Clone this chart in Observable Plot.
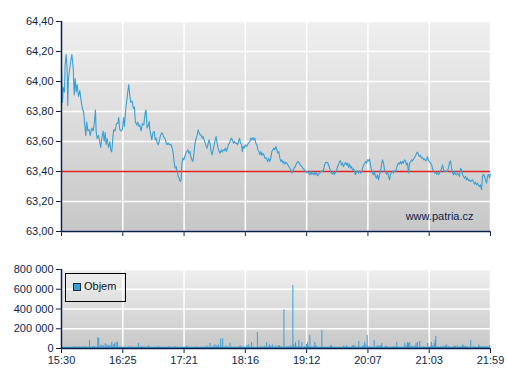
<!DOCTYPE html>
<html><head><meta charset="utf-8">
<script src="https://cdn.jsdelivr.net/npm/d3@7"></script>
<script src="https://cdn.jsdelivr.net/npm/@observablehq/plot@0.6"></script>
<style>
body{margin:0;background:#fff;}
#wrap{position:relative;width:507px;height:380px;font-family:"Liberation Sans",Arial,sans-serif;overflow:hidden;}
#top,#bottom{position:absolute;left:0;}
#top{top:0}
#bottom{top:245px}
#legend{position:absolute;left:65px;top:273px;width:61px;height:29px;border:1px solid #000;box-sizing:border-box;}
#legend .sw{position:absolute;left:7px;top:9px;width:8px;height:8px;background:#3a9fd3;border:1px solid #1a2a44;box-sizing:border-box;}
#legend .lb{position:absolute;left:18px;top:5px;font-size:11px;line-height:14px;color:#111;}
</style></head>
<body><div id="wrap"><div id="top"></div><div id="bottom"></div>
<div id="legend"><span class="sw"></span><span class="lb">Objem</span></div></div>
<script>
// session: 15:30 - 21:59, minutes since open
const sessionMinutes = 389;
const tickLabels = ["15:30","16:25","17:21","18:16","19:12","20:07","21:03","21:59"];
const priceTicks = [63.0, 63.2, 63.4, 63.6, 63.8, 64.0, 64.2, 64.4];
const referencePrice = 63.40;
const volumeTicks = [0, 200000, 400000, 600000, 800000];
const watermark = "www.patria.cz";
const legendLabel = "Objem";

const priceMinutes = [
0,0.9,1.5,2.7,3.3,4.2,5.1,5.7,6.3,7.2,8.2,9.4,10.6,11.5,12.4,13.3,14.2,15.4,16.6,17.8,19.0,20.2,20.8,22.0,22.9,23.9,25.1,26.0,27.5,28.7,29.9,30.8,31.4,32.3,33.5,34.7,35.6,36.5,37.7,38.7,39.6,40.5,41.4,42.6,43.8,44.7,45.6,46.5,47.4,48.6,49.8,51.0,51.9,52.8,54.1,55.3,56.2,57.1,58.3,59.2,60.1,61.0,61.9,62.8,64.0,65.2,66.1,67.0,68.3,69.2,70.1,71.0,72.2,73.4,74.6,75.8,76.7,77.6,78.8,
79.5,80.1,81.0,81.9,82.8,84.1,85.0,85.9,86.8,87.7,88.6,89.5,90.7,91.6,92.5,93.7,94.6,95.5,96.7,97.9,99.2,100.4,101.3,102.2,103.1,104.0,104.9,105.8,106.7,107.6,108.5,109.1,110.0,110.9,111.8,112.7,113.6,114.6,115.5,116.4,117.3,118.2,119.1,120.0,120.9,121.8,123.0,123.9,124.8,125.7,126.6,127.5,128.4,129.4,130.3,131.2,132.1,133.0,133.9,134.8,135.7,136.6,137.5,138.4,139.3,140.2,141.1,142.0,142.9,143.8,144.8,145.7,146.6,147.5,148.7,149.6,150.5,151.4,152.3,153.2,154.1,155.0,155.9,156.8,157.7,
158.7,159.6,160.5,161.4,162.3,163.3,163.9,164.8,165.7,166.6,167.8,168.7,169.6,170.8,171.7,172.6,173.5,174.4,175.3,176.2,177.1,178.1,179.0,179.9,180.8,181.7,182.6,183.5,184.4,185.3,186.2,187.1,188.0,188.9,189.8,190.7,191.6,192.5,193.5,194.4,195.3,196.2,197.1,198.0,198.9,199.8,200.7,201.6,202.5,203.4,204.3,205.2,206.1,207.0,207.9,208.9,209.8,210.7,211.6,212.5,213.4,214.3,215.2,216.1,217.0,217.9,218.8,219.7,220.6,221.5,222.4,223.4,224.3,225.2,226.1,227.0,227.9,228.8,229.7,230.6,231.5,232.4,233.3,234.2,235.1,236.0,
236.7,237.6,238.5,239.4,240.3,241.2,242.2,243.1,244.0,244.9,245.8,246.7,247.6,248.5,249.4,250.3,251.2,252.1,253.0,253.9,254.8,255.7,256.7,257.6,258.5,259.4,260.3,261.2,262.1,263.0,263.9,264.8,265.7,266.6,267.5,268.4,269.3,270.2,271.1,272.1,273.0,273.9,274.8,275.7,276.6,277.5,278.4,279.3,280.2,281.1,282.0,282.9,283.8,284.7,285.6,286.5,287.5,288.4,289.3,290.2,291.1,292.0,292.9,293.8,294.7,295.6,296.5,297.4,298.3,299.2,300.1,301.0,301.9,302.9,303.8,304.7,305.6,306.5,307.4,308.3,309.2,310.1,311.0,311.9,312.8,313.7,314.7,
315.6,316.5,317.4,318.3,319.2,320.2,321.1,322.0,322.9,323.8,324.7,325.6,326.5,327.4,328.3,329.2,330.1,331.0,331.9,332.8,333.7,334.7,335.6,336.5,337.4,338.3,339.2,340.1,341.0,341.9,342.8,343.7,344.6,345.5,346.4,347.3,348.2,349.1,350.1,351.0,351.9,352.8,353.7,354.6,355.5,356.4,357.3,358.2,359.1,360.0,360.9,361.8,362.7,363.6,364.5,365.5,366.4,367.3,368.2,369.1,370.0,370.9,371.8,372.7,373.6,374.5,375.4,376.3,377.2,378.1,379.0,379.9,380.9,381.8,382.7,383.6,384.5,385.4,386.3,387.2,388.1,389.0
];
const priceValues = [
64.09,63.86,63.96,63.93,64.11,64.18,64.09,63.84,64.02,64.07,64.13,64.18,64.09,63.91,64.02,63.93,63.98,63.90,63.94,63.87,63.82,63.79,63.73,63.64,63.73,63.67,63.68,63.64,63.69,63.67,63.73,63.81,63.67,63.62,63.64,63.60,63.56,63.62,63.67,63.60,63.66,63.58,63.62,63.56,63.60,63.54,63.53,63.62,63.68,63.67,63.72,63.72,63.76,63.68,63.67,63.68,63.76,63.70,63.82,63.87,63.93,63.98,63.91,63.86,63.87,63.82,63.83,63.73,63.71,63.73,63.70,63.71,63.67,63.72,63.71,63.79,63.81,63.69,63.71,
63.733,63.678,63.644,63.611,63.656,63.667,63.611,63.622,63.589,63.578,63.600,63.633,63.656,63.656,63.633,63.622,63.600,63.578,63.589,63.578,63.582,63.556,63.522,63.456,63.422,63.433,63.400,63.367,63.356,63.333,63.344,63.444,63.489,63.478,63.500,63.522,63.533,63.544,63.522,63.533,63.500,63.478,63.467,63.511,63.578,63.611,63.644,63.678,63.656,63.644,63.644,63.622,63.633,63.611,63.589,63.567,63.556,63.589,63.611,63.578,63.533,63.511,63.544,63.578,63.611,63.633,63.589,63.556,63.533,63.522,63.544,63.529,63.544,63.538,63.556,63.533,63.556,63.578,63.589,63.611,63.622,63.611,63.589,63.600,63.589,
63.589,63.578,63.600,63.622,63.589,63.578,63.533,63.567,63.556,63.578,63.567,63.578,63.589,63.600,63.622,63.611,63.627,63.611,63.622,63.589,63.578,63.544,63.533,63.511,63.533,63.507,63.522,63.511,63.489,63.493,63.478,63.467,63.489,63.467,63.489,63.533,63.544,63.556,63.544,63.567,63.544,63.522,63.533,63.489,63.467,63.478,63.456,63.467,63.449,63.462,63.456,63.444,63.433,63.422,63.411,63.389,63.404,63.422,63.427,63.444,63.456,63.467,63.462,63.449,63.440,63.433,63.422,63.418,63.404,63.400,63.393,63.400,63.389,63.378,63.400,63.382,63.389,63.378,63.396,63.378,63.389,63.371,63.382,63.389,63.400,63.404,
63.400,63.411,63.444,63.460,63.462,63.460,63.444,63.422,63.400,63.389,63.382,63.400,63.382,63.396,63.404,63.433,63.444,63.467,63.471,63.444,63.456,63.433,63.449,63.460,63.444,63.456,63.427,63.449,63.422,63.433,63.411,63.418,63.400,63.378,63.400,63.404,63.389,63.404,63.389,63.400,63.422,63.444,63.451,63.467,63.456,63.478,63.471,63.484,63.444,63.411,63.389,63.378,63.396,63.367,63.356,63.378,63.344,63.382,63.400,63.444,63.478,63.456,63.411,63.400,63.382,63.400,63.367,63.344,63.382,63.389,63.404,63.389,63.404,63.400,63.422,63.444,63.456,63.449,63.467,63.449,63.467,63.456,63.478,63.471,63.444,63.456,63.389,
63.456,63.462,63.478,63.471,63.484,63.493,63.507,63.522,63.529,63.507,63.500,63.507,63.489,63.493,63.478,63.484,63.471,63.478,63.500,63.471,63.467,63.456,63.444,63.418,63.404,63.389,63.396,63.382,63.396,63.378,63.389,63.404,63.418,63.444,63.411,63.400,63.404,63.400,63.404,63.427,63.462,63.471,63.422,63.389,63.378,63.400,63.382,63.378,63.389,63.378,63.367,63.422,63.411,63.382,63.367,63.356,63.367,63.344,63.356,63.338,63.344,63.333,63.338,63.344,63.333,63.316,63.329,63.311,63.322,63.307,63.300,63.311,63.278,63.367,63.382,63.367,63.344,63.322,63.367,63.382,63.356,63.382
];

const volumeMinutes = [
0,7.9,10.9,13.0,16.0,18.4,21.4,25.4,28.4,29.9,32.9,33.8,35.3,36.5,38.1,39.6,41.1,42.6,44.1,45.6,47.1,48.0,49.5,50.7,52.2,54.7,57.7,60.7,63.7,69.8,72.8,78.8,87.9,96.9,103.0,113.6,122.6,131.7,134.7,137.7,139.2,140.7,142.2,144.4,146.2,149.2,152.8,161.9,164.0,167.9,169.4,172.4,177.6,180.9,183.9,186.0,188.4,189.9,191.5,194.2,196.6,
197.7,199.2,201.7,204.1,205.6,207.1,208.0,209.8,210.7,212.2,213.7,215.2,216.4,218.0,220.4,222.2,223.1,224.0,225.2,226.7,228.8,229.7,230.9,236.1,243.9,244.8,256.0,258.4,259.3,263.6,264.8,266.0,269.6,273.2,274.1,275.0,276.2,277.2,278.7,283.5,286.2,287.7,289.2,290.4,293.8,295.0,301.3,304.0,311.3,312.5,313.7,314.6,315.8,317.3,318.5,320.3,321.5,322.8,324.9,328.5,332.1,333.9,335.4,336.6,337.9,338.8,339.4,341.2,343.9,346.0,348.1,349.3,351.1,356.0,357.2,359.0,362.0,363.8,364.7,366.2,367.4,371.1,374.1,378.3,379.2,381.3,383.2,385.3,388.3
];
const volumeValues = [
30000,13000,17000,17000,17000,17000,20000,81000,20000,20000,105000,105000,27000,34000,27000,47000,37000,30000,27000,61000,37000,47000,61000,61000,13000,13000,13000,17000,17000,51000,20000,27000,20000,20000,17000,27000,17000,24000,51000,27000,37000,27000,37000,98000,98000,24000,54000,27000,17000,27000,37000,61000,162000,20000,24000,57000,37000,27000,37000,27000,30000,
27000,17000,392000,17000,17000,17000,27000,638000,37000,61000,20000,81000,20000,61000,17000,41000,61000,20000,132000,17000,20000,61000,27000,182000,27000,27000,27000,27000,17000,27000,27000,27000,71000,24000,27000,61000,37000,132000,17000,81000,27000,27000,27000,51000,20000,20000,20000,61000,51000,27000,61000,51000,61000,20000,20000,27000,51000,61000,71000,20000,51000,17000,61000,27000,51000,81000,122000,20000,17000,27000,27000,37000,20000,27000,20000,27000,20000,37000,27000,20000,17000,81000,20000,37000,20000,17000,20000,20000,30000
];

const navy = "#0b1f4b";
const blue = "#3a9fd3";
const red = "#e3231f";
const xTicks = tickLabels.map((_, i) => i * sessionMinutes / 7);
const fmtTime = (d) => tickLabels[xTicks.findIndex(t => Math.abs(t - d) < 1e-6)] ?? "";
const fmtPrice = (d) => d.toFixed(2).replace(".", ",");
const fmtVol = (d) => d3.format(",")(d).replace(/,/g, " ");
const baseStyle = {fontFamily: "'Liberation Sans', Arial, sans-serif", fontSize: "11px", color: navy, background: "transparent", overflow: "visible"};

function applyGradient(svg, id) {
  const ns = "http://www.w3.org/2000/svg";
  const defs = document.createElementNS(ns, "defs");
  const lg = document.createElementNS(ns, "linearGradient");
  lg.setAttribute("id", id);
  lg.setAttribute("x1", "0"); lg.setAttribute("y1", "0");
  lg.setAttribute("x2", "0"); lg.setAttribute("y2", "1");
  [["0%", "#efefef"], ["100%", "#c7c7c7"]].forEach(([o, c]) => {
    const s = document.createElementNS(ns, "stop");
    s.setAttribute("offset", o); s.setAttribute("stop-color", c);
    lg.appendChild(s);
  });
  defs.appendChild(lg);
  svg.insertBefore(defs, svg.firstChild);
  const f = svg.querySelector('[aria-label="frame"]');
  const r = f && (f.tagName.toLowerCase() === "rect" ? f : f.querySelector("rect"));
  if (r) r.setAttribute("fill", `url(#${id})`);
}

const priceChart = Plot.plot({
  width: 507, height: 245,
  marginLeft: 61, marginRight: 17, marginTop: 21, marginBottom: 14,
  style: baseStyle,
  x: {domain: [0, sessionMinutes], ticks: xTicks, tickFormat: () => "", tickSize: 5, label: null},
  y: {domain: [63, 64.4], ticks: priceTicks, tickFormat: fmtPrice, tickSize: 5, tickPadding: 3, label: null},
  marks: [
    Plot.frame({fill: "#dddddd"}),
    Plot.ruleX(xTicks, {stroke: "white", strokeWidth: 1.5}),
    Plot.ruleY(priceTicks.filter(t => t !== referencePrice), {stroke: "white", strokeWidth: 1.5}),
    Plot.ruleY([referencePrice], {stroke: red, strokeWidth: 1.5, strokeOpacity: 1}),
    Plot.line(priceValues, {x: priceMinutes, y: priceValues, stroke: blue, strokeWidth: 1.1}),
    Plot.ruleX([0], {stroke: navy, strokeWidth: 1.5}),
    Plot.ruleY([63], {stroke: navy, strokeWidth: 1.5}),
    Plot.text([watermark], {frameAnchor: "bottom-right", dx: -17, dy: -12, textAnchor: "end", lineAnchor: "bottom", fill: navy, fontSize: 11})
  ]
});
applyGradient(priceChart, "gTop");
document.getElementById("top").appendChild(priceChart);

const volumeChart = Plot.plot({
  width: 507, height: 135,
  marginLeft: 61, marginRight: 17, marginTop: 24, marginBottom: 32,
  style: baseStyle,
  x: {domain: [0, sessionMinutes], ticks: xTicks, tickFormat: fmtTime, tickSize: 5, tickPadding: 3, label: null},
  y: {domain: [0, 800000], ticks: volumeTicks, tickFormat: fmtVol, tickSize: 5, tickPadding: 3, label: null},
  marks: [
    Plot.frame({fill: "#dddddd"}),
    Plot.ruleX(xTicks, {stroke: "white", strokeWidth: 1.5}),
    Plot.ruleY(volumeTicks, {stroke: "white", strokeWidth: 1.5}),
    Plot.ruleY([0], {stroke: blue, strokeWidth: 1.5, dy: -1}),
    Plot.ruleX(volumeMinutes, {x: volumeMinutes, y1: 0, y2: volumeValues, stroke: blue, strokeWidth: 1}),
    Plot.ruleX([0], {stroke: navy, strokeWidth: 1.5}),
    Plot.ruleY([0], {stroke: navy, strokeWidth: 1.5})
  ]
});
applyGradient(volumeChart, "gBot");
document.getElementById("bottom").appendChild(volumeChart);
document.querySelector("#legend .lb").textContent = legendLabel;
</script></body></html>
